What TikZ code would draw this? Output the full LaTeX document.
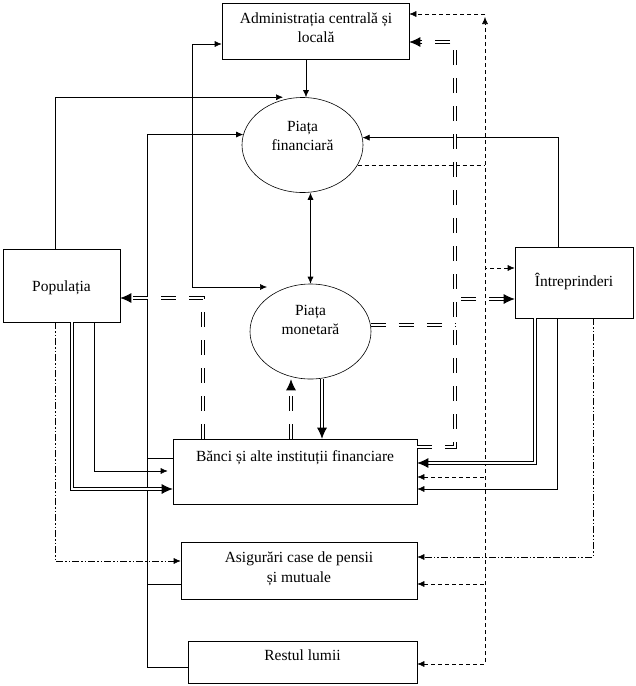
\documentclass[tikz,border=0pt]{standalone}
\usepackage{fontspec}
\setmainfont{Liberation Serif}
\usetikzlibrary{arrows.meta,shapes.geometric}
\begin{document}
\begin{tikzpicture}[x=1pt,y=-1pt,line width=0.6pt,
  box/.style={draw, rectangle, inner sep=0pt},
  ell/.style={draw, ellipse, inner sep=0pt, minimum width=121pt, minimum height=95pt},
  lbl/.style={font=\fontsize{15.5}{19.5}\selectfont, align=center, inner sep=0pt},
  arr/.style={-{Latex[length=7pt,width=6pt]}},
  rarr/.style={{Latex[length=7pt,width=6pt]}-},
  biarr/.style={{Latex[length=7pt,width=6pt]}-{Latex[length=7pt,width=6pt]}},
  barr/.style={-{Latex[length=11pt,width=10pt]}},
  rbarr/.style={{Latex[length=11pt,width=10pt]}-},
  dsh/.style={dash pattern=on 4pt off 3pt},
  ddsh/.style={double, line width=0.8pt, double distance=2.2pt, dash pattern=on 15pt off 13pt},
  dbl/.style={double, line width=0.8pt, double distance=2.2pt},
  ddot/.style={dash pattern=on 7pt off 2pt on 1.5pt off 2pt on 1.5pt off 2pt}
]
\useasboundingbox (0,0) rectangle (636,686);
% boxes
\node[box, minimum width=187pt, minimum height=56pt] (adm) at (315.5,31) {};
\node[ell] (pf) at (302.5,145) {};
\node[ell] (pm) at (310.5,331.5) {};
\node[box, minimum width=117pt, minimum height=73pt] (pop) at (61.5,285.5) {};
\node[box, minimum width=118pt, minimum height=71pt] (intr) at (574,282.5) {};
\node[box, minimum width=244pt, minimum height=65pt] (banci) at (295,471.5) {};
\node[box, minimum width=236pt, minimum height=57pt] (asig) at (299,570.5) {};
\node[box, minimum width=229pt, minimum height=42pt] (rest) at (302.5,662) {};
% texts
\node[lbl] (tadm) at (316,27.7) {Administrația centrală și\\locală};
\node[lbl] (tpf) at (302.5,135.7) {Piața\\financiară};
\node[lbl] (tpm) at (310.5,320) {Piața\\monetară};
\node[lbl,anchor=base] (tpop) at (61.5,291) {Populația};
\node[lbl,anchor=base] (tintr) at (574,286) {Întreprinderi};
\node[lbl,anchor=base] (tbanci) at (295,461) {Bănci și alte instituții financiare};
\node[lbl] (tasig) at (299,568.7) {Asigurări case de pensii\\și mutuale};
\node[lbl,anchor=base] (trest) at (302.5,660) {Restul lumii};
% helper coordinates
\coordinate (c147) at (147,0);
\coordinate (c192) at (192,0);
\coordinate (c455) at (455,0);
\coordinate (c485) at (485,0);
\coordinate (dtop) at (485,17);
\coordinate (dtop2) at (485,14);
\coordinate (pmtip) at (267,287);
% solid single
\draw[arr] ([xshift=-9.5pt]adm.south) -- ([xshift=3.5pt]pf.north);
\draw[arr] ([xshift=-6.5pt]pop.north) |- ([xshift=-19.5pt]pf.north);
\draw[arr] ([yshift=-5pt]rest.west) -| (c147 |- pf.170) -- (pf.170);
\draw ([yshift=-13.5pt]asig.west) -- ++(-34,0);
\draw ([yshift=13.5pt]banci.west) -- ++(-26,0);
\draw[biarr] ([yshift=-13pt]adm.west) -| (c192 |- pmtip) -- (pmtip);
\draw[biarr] (pf.south -| pm.north) -- (pm.north);
\draw[arr] ([xshift=-16pt]intr.north) |- (pf.7);
\draw[arr] ([xshift=-17pt]intr.south) |- ([yshift=-17.5pt]banci.east);
\draw[arr] ([xshift=32.5pt]pop.south) |- ([xshift=-5pt,yshift=0.5pt]banci.west);
% thin dashed
\draw[dsh] (pf.-20) -- (c485 |- pf.-20);
\draw[dsh, biarr] ([yshift=-2pt]rest.east) -| (dtop);
\draw[dsh, arr] (dtop2) -- ([yshift=17pt]adm.east);
\draw[dsh, rarr] ([yshift=14.5pt]intr.west) -- ++(-30,0);
\draw[dsh, rarr] ([yshift=-5.5pt]banci.east) -- ++(68,0);
\draw[dsh, rarr] ([yshift=-13.5pt]asig.east) -- ++(68,0);
% double dashed
\draw[ddsh] (pm.6) -- (c455 |- pm.6);
\draw[ddsh, barr] ([yshift=24.5pt]banci.east) -- ++(38,0) |- ([yshift=-11pt]adm.east);
\draw[ddsh, rbarr] ([yshift=-16.5pt]intr.west) -- ++(-60,0);
\draw[ddsh, barr] ([xshift=-92pt]banci.north) |- ([yshift=-12.5pt]pop.east);
\draw[ddsh, barr] ([xshift=-4pt]banci.north) -- ([xshift=-19.5pt]pm.south);
% double solid
\draw[dbl, barr] ([xshift=11.5pt]pm.south) -- ([xshift=27pt]banci.north);
\draw[dbl, barr] ([xshift=-39pt]intr.south) |- ([yshift=8.5pt]banci.east);
\draw[dbl, barr] ([xshift=10.5pt]pop.south) |- ([yshift=-17.5pt]banci.west);
% dash-dot
\draw[ddot, arr] ([xshift=19pt]intr.south) |- ([yshift=13.5pt]asig.east);
\draw[ddot, arr] ([xshift=-6.5pt]pop.south) |- ([yshift=9.5pt]asig.west);
\end{tikzpicture}
\end{document}
